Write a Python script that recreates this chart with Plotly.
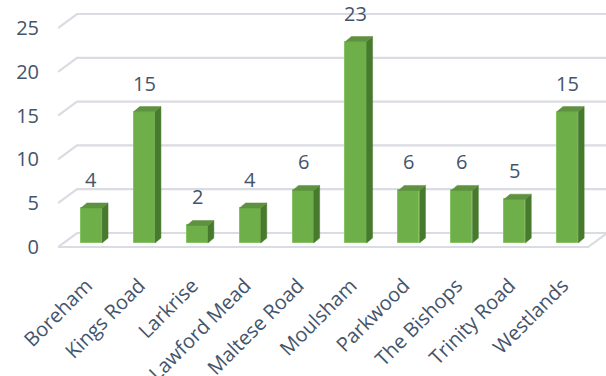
import plotly.graph_objects as go

categories = ["Boreham", "Kings Road", "Larkrise", "Lawford Mead", "Maltese Road",
              "Moulsham", "Parkwood", "The Bishops", "Trinity Road", "Westlands"]
values = [4, 15, 2, 4, 6, 23, 6, 6, 5, 15]
y_ticks = [0, 5, 10, 15, 20, 25]

# styling / 3-D depth constants (axis units)
X_MIN, X_MAX = -0.633, 9.726
Y_MIN, Y_MAX = -0.34, 28.2
WALL_DX, WALL_DY = 0.36, 1.6       # depth of floor / back wall
BAR_W = 0.40
BAR_BASE = 0.46                    # bars sit slightly behind the floor's front edge
SIDE_DX, SIDE_DY = 0.113, 0.57     # bar depth
FLOOR_END = 9.39

FRONT = "#6eaf49"
SIDE = "#477a2d"
TOP = "#5e9140"
GRID = "#d9dce2"
TXT = "#44546a"
FONT = "Open Sans"

xs = list(range(len(categories)))
fig = go.Figure()

# back wall gridlines + floor, drawn below the data
shapes = []
for v in y_ticks:
    path = (f"M {X_MIN},{v} L {X_MIN + WALL_DX},{v + WALL_DY} "
            f"L {X_MAX + 1},{v + WALL_DY}")
    shapes.append(dict(type="path", path=path, xref="x", yref="y", layer="below",
                       line=dict(color=GRID, width=2.2)))
shapes.append(dict(type="path",
                   path=f"M {X_MIN},0 L {FLOOR_END},0 L {FLOOR_END + WALL_DX},{WALL_DY}",
                   xref="x", yref="y", layer="below", line=dict(color=GRID, width=2.2)))

# front faces
fig.add_trace(go.Bar(x=xs, y=values, base=BAR_BASE, width=BAR_W,
                     marker=dict(color=FRONT, line=dict(color="#86c263", width=1)),
                     showlegend=False))

# side faces and top faces
sx, sy, tx, ty = [], [], [], []
for x, v in zip(xs, values):
    r = x + BAR_W / 2
    l = x - BAR_W / 2
    top = BAR_BASE + v
    sx += [r, r + SIDE_DX, r + SIDE_DX, r, r, None]
    sy += [BAR_BASE, BAR_BASE + SIDE_DY, top + SIDE_DY, top, BAR_BASE, None]
    tx += [l, l + SIDE_DX, r + SIDE_DX, r, l, None]
    ty += [top, top + SIDE_DY, top + SIDE_DY, top, top, None]
fig.add_trace(go.Scatter(x=sx, y=sy, mode="lines", fill="toself", fillcolor=SIDE,
                         line=dict(color=SIDE, width=0.5), hoverinfo="skip", showlegend=False))
fig.add_trace(go.Scatter(x=tx, y=ty, mode="lines", fill="toself", fillcolor=TOP,
                         line=dict(color=TOP, width=0.5), hoverinfo="skip", showlegend=False))

# data labels
for x, v in zip(xs, values):
    fig.add_annotation(x=x, y=BAR_BASE + v + SIDE_DY, text=str(v), showarrow=False,
                       yanchor="bottom", yshift=8,
                       font=dict(family=FONT, size=20, color=TXT))

fig.update_layout(
    width=606, height=376,
    margin=dict(l=58, r=0, t=0, b=126, autoexpand=False),
    plot_bgcolor="white", paper_bgcolor="white",
    bargap=0,
    shapes=shapes,
    xaxis=dict(range=[X_MIN, X_MAX], tickmode="array", tickvals=xs, ticktext=categories,
               tickangle=-45, showgrid=False, zeroline=False, showline=False, ticks="",
               ticklabelstandoff=19, ticklabelshift=-5, automargin=False,
               tickfont=dict(family=FONT, size=20, color=TXT)),
    yaxis=dict(range=[Y_MIN, Y_MAX], tickmode="array", tickvals=y_ticks,
               showgrid=False, zeroline=False, showline=False, ticks="",
               ticklabelstandoff=18, automargin=False,
               tickfont=dict(family=FONT, size=20, color=TXT)),
)

fig.write_html("out.html")
